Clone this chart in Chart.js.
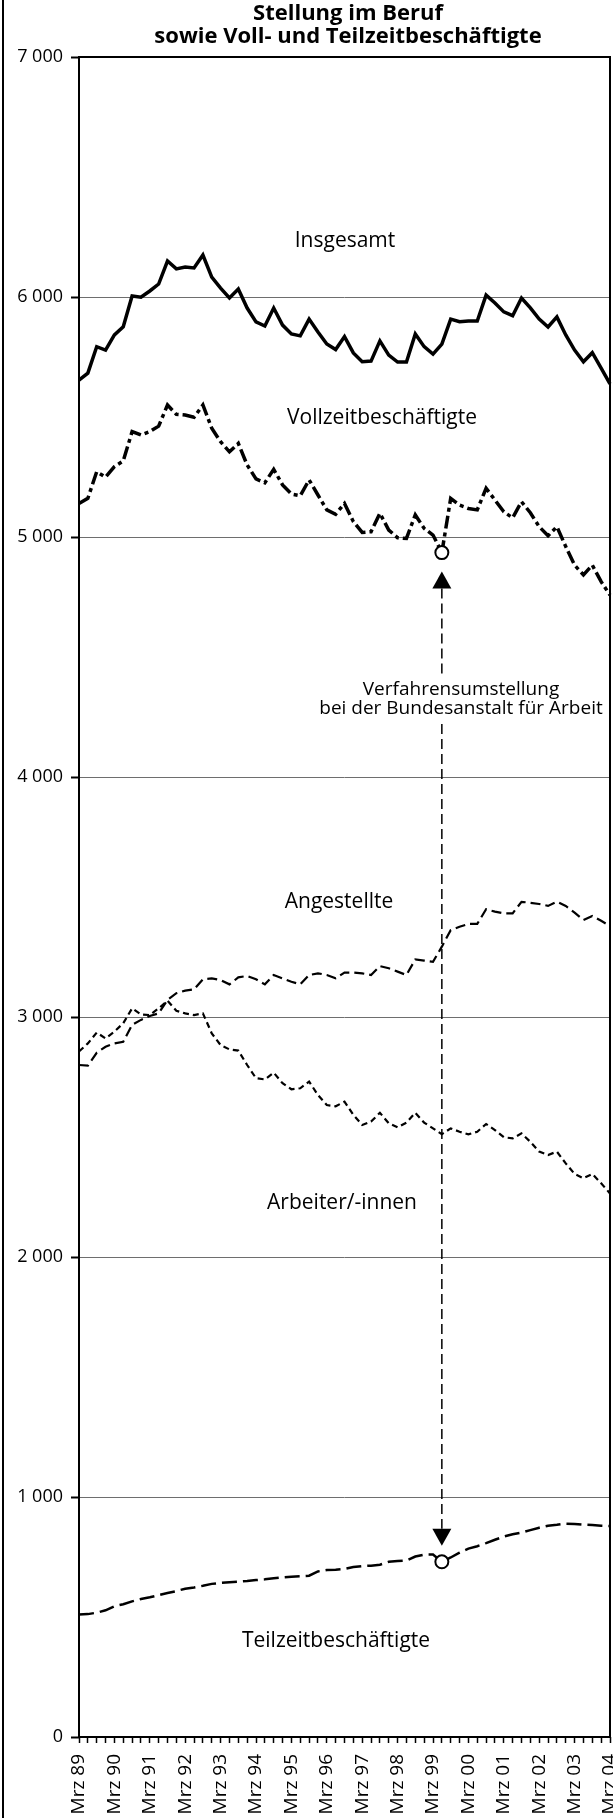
<!DOCTYPE html>
<html><head><meta charset="utf-8">
<script src="https://cdn.jsdelivr.net/npm/chart.js@4.4.0/dist/chart.umd.min.js"></script>
<style>html,body{margin:0;padding:0;background:#fff;}canvas{display:block;}</style>
</head><body>
<canvas id="c" width="613" height="1818"></canvas>
<script>
const quarters = [
"Mrz 89","Jun 89","Sep 89","Dez 89","Mrz 90","Jun 90","Sep 90","Dez 90",
"Mrz 91","Jun 91","Sep 91","Dez 91","Mrz 92","Jun 92","Sep 92","Dez 92",
"Mrz 93","Jun 93","Sep 93","Dez 93","Mrz 94","Jun 94","Sep 94","Dez 94",
"Mrz 95","Jun 95","Sep 95","Dez 95","Mrz 96","Jun 96","Sep 96","Dez 96",
"Mrz 97","Jun 97","Sep 97","Dez 97","Mrz 98","Jun 98","Sep 98","Dez 98",
"Mrz 99","Jun 99","Sep 99","Dez 99","Mrz 00","Jun 00","Sep 00","Dez 00",
"Mrz 01","Jun 01","Sep 01","Dez 01","Mrz 02","Jun 02","Sep 02","Dez 02",
"Mrz 03","Jun 03","Sep 03","Dez 03","Mrz 04"];

const insgesamt = [5654,5683,5793,5779,5842,5876,6004,5999,6025,6054,
6150,6117,6125,6121,6175,6083,6037,5996,6033,5954,
5896,5879,5954,5883,5846,5838,5908,5854,5804,5781,
5835,5767,5730,5733,5817,5758,5729,5729,5846,5793,
5762,5804,5908,5897,5900,5900,6008,5975,5938,5922,
5996,5955,5908,5875,5917,5842,5779,5730,5768,5704,5638];

const vollzeit = [5140,5161,5272,5249,5293,5317,5439,5425,5439,5462,
5550,5511,5508,5499,5550,5453,5397,5355,5390,5300,
5242,5226,5282,5217,5179,5172,5238,5175,5113,5095,
5140,5064,5019,5022,5099,5029,4997,4994,5092,5036,
5008,4935,5161,5133,5119,5113,5203,5154,5105,5080,
5147,5101,5043,5005,5043,4960,4883,4842,4883,4814,4758];

const angestellte = [2800,2797,2851,2876,2890,2897,2967,2988,3004,3015,
3071,3099,3110,3115,3157,3161,3154,3136,3165,3171,
3157,3136,3175,3161,3147,3136,3175,3182,3175,3161,
3185,3185,3182,3175,3212,3203,3189,3175,3240,3235,
3230,3293,3362,3376,3388,3388,3449,3439,3432,3432,
3480,3476,3471,3463,3480,3463,3435,3404,3421,3401,3379];

const arbeiter = [2856,2890,2935,2911,2939,2974,3036,3011,3008,3036,
3068,3026,3015,3008,3015,2932,2883,2865,2860,2800,
2745,2740,2768,2724,2699,2703,2731,2675,2633,2628,
2647,2592,2550,2564,2601,2557,2540,2560,2601,2560,
2536,2512,2536,2522,2511,2522,2554,2529,2499,2494,
2515,2480,2439,2425,2439,2390,2346,2328,2346,2307,2265];

const teilzeit = [510,512,518,528,545,553,565,575,582,591,
600,608,618,623,630,638,642,645,647,650,
654,657,661,665,668,670,672,690,696,697,
700,708,712,714,718,730,733,735,752,760,
760,730,748,768,785,795,808,822,835,845,
852,862,872,880,884,889,888,885,883,880,879];

const yTickLabels = ["0","1 000","2 000","3 000","4 000","5 000","6 000","7 000"];
const titleLines = ["Stellung im Beruf","sowie Voll- und Teilzeitbeschäftigte"];
const seriesNames = ["Insgesamt","Vollzeitbeschäftigte","Angestellte","Arbeiter/-innen","Teilzeitbeschäftigte"];
const noteLines = ["Verfahrensumstellung","bei der Bundesanstalt für Arbeit"];
const changeIndex = 41;

const FONT = "'Open Sans', 'Noto Sans', sans-serif";

const marker = (ctx) => ctx.dataIndex === changeIndex ? 6.5 : 0;

const decor = {
  id: 'decor',
  afterDraw(chart) {
    const {ctx, chartArea: a, scales: {x, y}} = chart;
    ctx.save();
    ctx.strokeStyle = '#000';
    ctx.fillStyle = '#000';
    ctx.lineWidth = 2;
    ctx.beginPath(); ctx.moveTo(3, 0); ctx.lineTo(3, chart.height); ctx.stroke();
    ctx.strokeRect(a.left, a.top, a.right - a.left, a.bottom - a.top);

    ctx.textAlign = 'center'; ctx.textBaseline = 'middle';
    ctx.font = "bold 22px " + FONT;
    const cx = 348;
    ctx.fillText(titleLines[0], cx, 14);
    ctx.fillText(titleLines[1], cx, 37);

    ctx.font = "21px " + FONT;
    const pos = [[345,241],[382,418],[339,902],[342,1203],[336,1641]];
    seriesNames.forEach((t, i) => ctx.fillText(t, pos[i][0], pos[i][1]));

    ctx.font = "19px " + FONT;
    ctx.fillText(noteLines[0], 461, 690);
    ctx.fillText(noteLines[1], 461, 709);

    const xi = x.getPixelForValue(changeIndex);
    const yV = y.getPixelForValue(vollzeit[changeIndex]);
    const yT = y.getPixelForValue(teilzeit[changeIndex]);
    const tw = 9.5, th = 17;
    const upTip = yV + 19, upBase = upTip + th;
    const dnTip = yT - 16, dnBase = dnTip - th;
    ctx.beginPath(); ctx.moveTo(xi, upTip); ctx.lineTo(xi - tw, upBase); ctx.lineTo(xi + tw, upBase); ctx.closePath(); ctx.fill();
    ctx.beginPath(); ctx.moveTo(xi, dnTip); ctx.lineTo(xi - tw, dnBase); ctx.lineTo(xi + tw, dnBase); ctx.closePath(); ctx.fill();
    ctx.lineWidth = 1.5;
    ctx.setLineDash([10, 5]);
    ctx.beginPath(); ctx.moveTo(xi, upBase); ctx.lineTo(xi, 678); ctx.stroke();
    ctx.beginPath(); ctx.moveTo(xi, 724); ctx.lineTo(xi, dnBase); ctx.stroke();
    ctx.restore();
  }
};

new Chart(document.getElementById('c'), {
  type: 'line',
  data: {
    labels: quarters,
    datasets: [
      {label: seriesNames[0], data: insgesamt, borderColor: '#000', borderWidth: 3.5, pointRadius: 0, tension: 0, borderJoinStyle: 'miter'},
      {label: seriesNames[1], data: vollzeit, borderColor: '#000', borderWidth: 3.5, borderDash: [13, 4, 4, 4], tension: 0,
        pointRadius: marker, pointBackgroundColor: '#fff', pointBorderColor: '#000', pointBorderWidth: 2},
      {label: seriesNames[2], data: angestellte, borderColor: '#000', borderWidth: 2.2, borderDash: [10, 5], pointRadius: 0, tension: 0},
      {label: seriesNames[3], data: arbeiter, borderColor: '#000', borderWidth: 2.2, borderDash: [6, 4], pointRadius: 0, tension: 0},
      {label: seriesNames[4], data: teilzeit, borderColor: '#000', borderWidth: 2.5, borderDash: [15, 6], tension: 0,
        pointRadius: marker, pointBackgroundColor: '#fff', pointBorderColor: '#000', pointBorderWidth: 2}
    ]
  },
  options: {
    responsive: false, animation: false, devicePixelRatio: 1,
    layout: {padding: {top: 57, right: 3, left: 0, bottom: 0}},
    plugins: {legend: {display: false}, tooltip: {enabled: false}, title: {display: false}},
    scales: {
      x: {
        type: 'category', offset: false,
        grid: {display: true, drawOnChartArea: false, drawTicks: true, tickLength: 6, tickColor: '#000', tickWidth: 1.5, offset: false},
        border: {display: false},
        ticks: {autoSkip: false, maxRotation: 90, minRotation: 90, padding: 11, color: '#000',
          font: {family: FONT, size: 19},
          callback: (v, i) => quarters[i].startsWith('Mrz') ? quarters[i] : ''},
        afterFit: s => { s.height = 81; s.paddingLeft = 0; s.paddingRight = 0; }
      },
      y: {
        min: 0, max: 7000,
        ticks: {stepSize: 1000, padding: 8, color: '#000', font: {family: FONT, size: 18},
          callback: v => yTickLabels[Math.round(v / 1000)]},
        grid: {color: c => (c.tick && (c.tick.value === 0 || c.tick.value === 7000)) ? 'rgba(0,0,0,0)' : '#6e6e6e',
          lineWidth: 1, tickLength: 8, tickColor: '#000', tickWidth: 2},
        border: {display: false},
        afterFit: s => { s.width = 79; s.paddingTop = 0; s.paddingBottom = 0; }
      }
    }
  },
  plugins: [decor]
});
</script>
</body></html>
